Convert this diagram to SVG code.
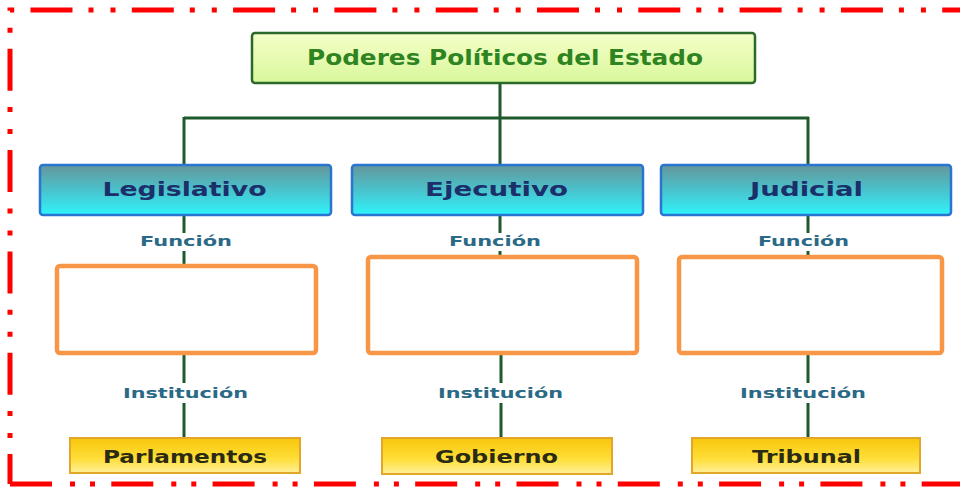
<svg xmlns="http://www.w3.org/2000/svg" width="960" height="487" viewBox="0 0 960 487">
<defs>
<linearGradient id="gTop" x1="0" y1="0" x2="0" y2="1"><stop offset="0" stop-color="#f4ffc8"/><stop offset="1" stop-color="#d9f79c"/></linearGradient>
<linearGradient id="gBlue" x1="0" y1="0" x2="0" y2="1"><stop offset="0" stop-color="#64969a"/><stop offset="0.5" stop-color="#4ac2cc"/><stop offset="1" stop-color="#2ff4fb"/></linearGradient>
<linearGradient id="gGold" x1="0" y1="0" x2="0" y2="1"><stop offset="0" stop-color="#f8c60a"/><stop offset="0.6" stop-color="#ffdf3a"/><stop offset="1" stop-color="#fff09a"/></linearGradient>
<style>
.t{font-family:"DejaVu Sans","Liberation Sans",sans-serif;font-weight:bold;text-anchor:middle}
.top{fill:url(#gTop);stroke:#2b6a2b;stroke-width:2.5}
.blue{fill:url(#gBlue);stroke:#2a74d2;stroke-width:2.5}
.orange{fill:#fff;stroke:#f79646;stroke-width:4.5}
.gold{fill:url(#gGold);stroke:#e2a72a;stroke-width:2}
.ln{stroke:#1f5a2c;stroke-width:3;fill:none}
.lbl{font-size:14px;fill:#2b6a86}
.bt{font-size:19px;fill:#1b2f6b}
.gt{font-size:18px;fill:#2b2a12}
.frame{fill:none;stroke:#ff0000;stroke-width:5}
</style>
</defs>
<rect width="960" height="487" fill="#fff"/>
<g id="frame">
<path class="frame" d="M10,484 V10 H962" stroke-dasharray="42 16 5 17 5 16.3" stroke-dashoffset="12"/>
<path class="frame" d="M10,484 H962" stroke-dasharray="42 18 5 15 5 16.3"/>
</g>
<g id="connectors">
<path class="ln" d="M500,83 V165 M184,118 H809 M184,117 V165 M808,117 V165"/>
<path class="ln" d="M184,215 V233 M184,251 V265 M500,215 V233 M500,251 V256 M808,215 V233 M808,251 V256"/>
<path class="ln" d="M184,354 V383 M184,403 V438 M501,354 V383 M501,403 V438 M808,354 V383 M808,403 V438"/>
</g>
<g id="n-root"><rect class="top" x="252" y="33" width="503" height="50" rx="3"/><text class="t" x="505" y="64.5" font-size="21" fill="#2f8422" textLength="396" lengthAdjust="spacingAndGlyphs">Poderes Políticos del Estado</text></g>
<g id="n-legislativo"><rect class="blue" x="40" y="165" width="291" height="50" rx="3"/><text class="t bt" x="184.5" y="196" textLength="164" lengthAdjust="spacingAndGlyphs">Legislativo</text></g>
<g id="n-ejecutivo"><rect class="blue" x="352" y="165" width="291" height="50" rx="3"/><text class="t bt" x="496.5" y="196" textLength="143" lengthAdjust="spacingAndGlyphs">Ejecutivo</text></g>
<g id="n-judicial"><rect class="blue" x="661" y="165" width="290" height="50" rx="3"/><text class="t bt" x="806.5" y="196" textLength="113" lengthAdjust="spacingAndGlyphs">Judicial</text></g>
<g id="l-funcion"><text class="t lbl" x="186" y="246" textLength="92" lengthAdjust="spacingAndGlyphs">Función</text><text class="t lbl" x="495" y="246" textLength="92" lengthAdjust="spacingAndGlyphs">Función</text><text class="t lbl" x="803.5" y="246" textLength="91" lengthAdjust="spacingAndGlyphs">Función</text></g>
<g id="n-f1"><rect class="orange" x="57" y="266" width="259" height="87" rx="3"/></g>
<g id="n-f2"><rect class="orange" x="368" y="257" width="269" height="96" rx="3"/></g>
<g id="n-f3"><rect class="orange" x="679" y="257" width="263" height="96" rx="3"/></g>
<g id="l-institucion"><text class="t lbl" x="185.5" y="398" textLength="125" lengthAdjust="spacingAndGlyphs">Institución</text><text class="t lbl" x="500.5" y="398" textLength="125" lengthAdjust="spacingAndGlyphs">Institución</text><text class="t lbl" x="803" y="398" textLength="126" lengthAdjust="spacingAndGlyphs">Institución</text></g>
<g id="n-parlamentos"><rect class="gold" x="70" y="438" width="230" height="35"/><text class="t gt" x="185" y="462.5" textLength="164" lengthAdjust="spacingAndGlyphs">Parlamentos</text></g>
<g id="n-gobierno"><rect class="gold" x="382" y="438" width="230" height="36"/><text class="t gt" x="496.5" y="462.5" textLength="123" lengthAdjust="spacingAndGlyphs">Gobierno</text></g>
<g id="n-tribunal"><rect class="gold" x="692" y="438" width="228" height="35"/><text class="t gt" x="806.5" y="462.5" textLength="109" lengthAdjust="spacingAndGlyphs">Tribunal</text></g>
</svg>
